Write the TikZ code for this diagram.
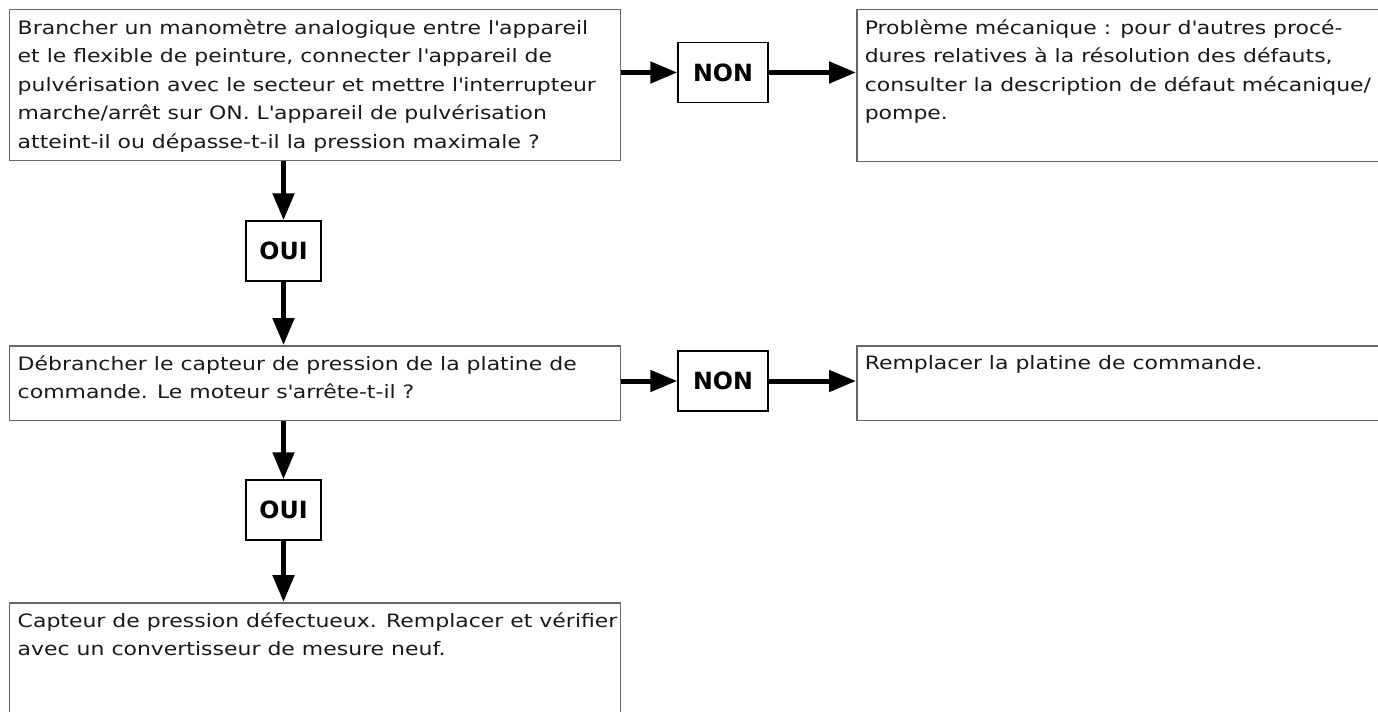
\documentclass[tikz,border=0pt]{standalone}
\usepackage{fontspec}
\setmainfont{DejaVu Sans}[FakeStretch=1.19]
\newfontfamily\answerfont{DejaVu Sans}
\usetikzlibrary{positioning,arrows.meta}

\newcommand{\boxtext}[3]{\parbox[c][#2][t]{#1}{\raggedright #3}}
\newcommand{\apos}{\textquotesingle}

\begin{document}
\begin{tikzpicture}[
  x=0.02cm, y=-0.02cm,
  font=\fontsize{10.5}{16.2}\selectfont,
  >={Triangle[length=5.4mm,width=4.2mm]},
  box/.style={draw=black!60, line width=0.85pt, anchor=north west, inner xsep=0.16cm, inner ysep=0.2cm, text=black!90},
  answer/.style={draw=black, line width=0.85pt, minimum width=1.8cm, minimum height=1.2cm, inner sep=0pt, font=\answerfont\fontsize{13.5}{14}\selectfont\bfseries},
  arr/.style={->, line width=0.1cm}
]
\useasboundingbox (0,0) rectangle (1378,711);

% ---------------- first test ----------------
\node[box] (mano) at (9,9) {\boxtext{11.9cm}{2.62cm}{Brancher un manomètre analogique entre l\apos appareil\\
  et le flexible de peinture, connecter l\apos appareil de\\
  pulvérisation avec le secteur et mettre l\apos interrupteur\\
  marche/arrêt sur ON. L\apos appareil de pulvérisation\\
  atteint-il ou dépasse-t-il la pression maximale ?}};
\node[answer] (nonA) at (723,72.5) {NON};
\node[box] (meca) at (856,9) {\boxtext{11cm}{2.64cm}{Problème mécanique : pour d\apos autres procé-\\
  dures relatives à la résolution des défauts,\\
  consulter la description de défaut mécanique/\\
  pompe.}};
\draw[arr] (mano.east |- nonA) -- (nonA);
\draw[arr] (nonA) -- (meca.west |- nonA);

% ---------------- second test ----------------
\node[answer, minimum width=1.5cm] (ouiA) at (283.5,251) {OUI};
\node[box] (capt) at (9,345) {\boxtext{11.9cm}{1.1cm}{Débrancher le capteur de pression de la platine de\\
  commande. Le moteur s\apos arrête-t-il ?}};
\node[answer] (nonB) at (723,381) {NON};
\node[box] (platine) at (856,345) {\boxtext{11cm}{1.1cm}{Remplacer la platine de commande.}};
\draw[arr] (mano.south -| ouiA) -- (ouiA);
\draw[arr] (ouiA) -- (capt.north -| ouiA);
\draw[arr] (capt.east |- nonB) -- (nonB);
\draw[arr] (nonB) -- (platine.west |- nonB);

% ---------------- result ----------------
\node[answer, minimum width=1.5cm] (ouiB) at (283.5,510) {OUI};
\node[box] (defect) at (9,602) {\boxtext{11.9cm}{2.0cm}{\mbox{Capteur de pression défectueux. Remplacer et vérifier}\\
  avec un convertisseur de mesure neuf.}};
\draw[arr] (capt.south -| ouiB) -- (ouiB);
\draw[arr] (ouiB) -- (defect.north -| ouiB);
\end{tikzpicture}
\end{document}
